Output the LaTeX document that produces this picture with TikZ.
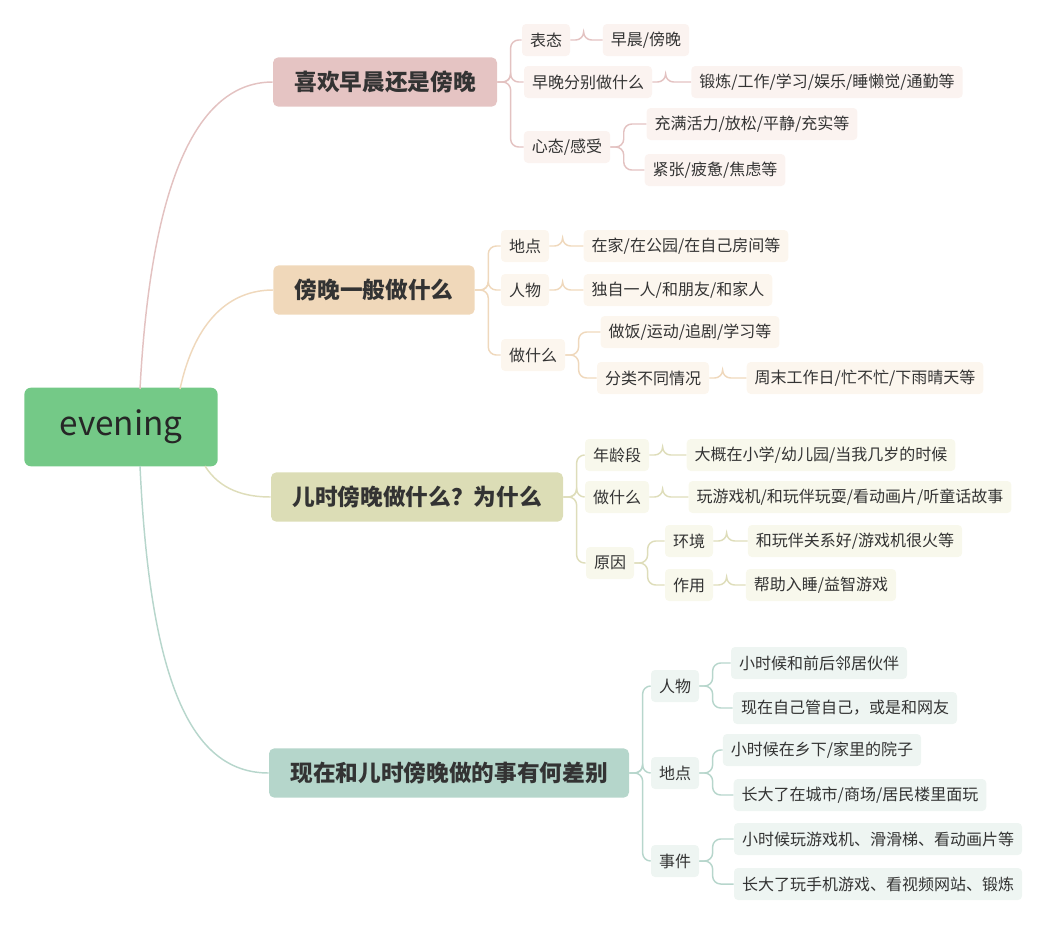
\documentclass[tikz,border=0pt]{standalone}
\usepackage{fontspec}
\setmainfont{Noto Sans CJK SC}
\definecolor{rootc}{HTML}{74C987}
\definecolor{ca}{HTML}{E5C4C3}\definecolor{la}{HTML}{E3C2C1}\definecolor{fa}{HTML}{FBF3F0}
\definecolor{cb}{HTML}{F0D8BA}\definecolor{lb}{HTML}{EFD8BC}\definecolor{fb}{HTML}{FCF6EE}
\definecolor{cc}{HTML}{DCDDB6}\definecolor{lc}{HTML}{DEDDBA}\definecolor{fc}{HTML}{F8F8EC}
\definecolor{cd}{HTML}{B5D6CB}\definecolor{ld}{HTML}{B7D6CC}\definecolor{fd}{HTML}{EEF5F2}
\definecolor{txt}{HTML}{333333}
\tikzset{
  topic/.style={rounded corners=4pt, fill=#1, text=txt, font=\fontsize{17}{20}\selectfont\bfseries,
    inner xsep=16pt, minimum height=37pt},
  leaf/.style={rounded corners=3pt, fill=#1, text=txt, font=\fontsize{12}{14}\selectfont,
    inner xsep=6pt, minimum height=24pt},
  link/.style={draw=#1, line width=1.1pt, rounded corners=6pt},
}
\newcommand\fork[3]{\draw[link=#1] (#2.east) -- ++(10pt,0) |- (#3.west);}
\begin{document}
\begin{tikzpicture}[x=0.75pt,y=-0.75pt]
\useasboundingbox (0,0) rectangle (1063,936);
% root and main topics
\node[rounded corners=5pt, fill=rootc, text=black!85, font=\fontsize{25}{28}\selectfont,
  minimum width=145pt, minimum height=59pt] (root) at (121,427) {evening};
\node[topic=ca] (morning) at (385,82) {喜欢早晨还是傍晚};
\node[topic=cb] (usual) at (374,290) {傍晚一般做什么};
\node[topic=cc] (child) at (417,497) {儿时傍晚做什么？为什么};
\node[topic=cd] (now) at (449,773) {现在和儿时傍晚做的事有何差别};
\draw[la, line width=1.1pt] (140,389) .. controls (150,200) and (190,82) .. (morning.west);
\draw[lb, line width=1.1pt] (180,389) .. controls (195,320) and (230,290) .. (usual.west);
\draw[lc, line width=1.1pt] (205,466) .. controls (220,490) and (245,497) .. (child.west);
\draw[ld, line width=1.1pt] (140,466) .. controls (150,680) and (190,773) .. (now.west);
% first topic
\node[leaf=fa] (state) at (546,40) {表态};
\node[leaf=fa] (statea) at (646,40) {早晨/傍晚};
\node[leaf=fa] (doing) at (588,82) {早晚分别做什么};
\node[leaf=fa] (doinga) at (827,82) {锻炼/工作/学习/娱乐/睡懒觉/通勤等};
\node[leaf=fa] (mood) at (567,147) {心态/感受};
\node[leaf=fa] (mooda) at (752,124) {充满活力/放松/平静/充实等};
\node[leaf=fa] (moodb) at (715,170) {紧张/疲惫/焦虑等};
\foreach \c in {state,doing,mood} {\fork{la}{morning}{\c}}
\fork{la}{state}{statea}
\fork{la}{doing}{doinga}
\foreach \c in {mooda,moodb} {\fork{la}{mood}{\c}}
% second topic
\node[leaf=fb] (place) at (525,246) {地点};
\node[leaf=fb] (placea) at (686,246) {在家/在公园/在自己房间等};
\node[leaf=fb] (people) at (525,290) {人物};
\node[leaf=fb] (peoplea) at (678,290) {独自一人/和朋友/和家人};
\node[leaf=fb] (what) at (533,355) {做什么};
\node[leaf=fb] (whata) at (690,332) {做饭/运动/追剧/学习等};
\node[leaf=fb] (whatb) at (653,378) {分类不同情况};
\node[leaf=fb] (whatc) at (865,378) {周末工作日/忙不忙/下雨晴天等};
\foreach \c in {place,people,what} {\fork{lb}{usual}{\c}}
\fork{lb}{place}{placea}
\fork{lb}{people}{peoplea}
\foreach \c in {whata,whatb} {\fork{lb}{what}{\c}}
\fork{lb}{whatb}{whatc}
% third topic
\node[leaf=fc] (age) at (617,455) {年龄段};
\node[leaf=fc] (agea) at (821,455) {大概在小学/幼儿园/当我几岁的时候};
\node[leaf=fc] (play) at (617,497) {做什么};
\node[leaf=fc] (playa) at (850,497) {玩游戏机/和玩伴玩耍/看动画片/听童话故事};
\node[leaf=fc] (why) at (610,563) {原因};
\node[leaf=fc] (env) at (689,541) {环境};
\node[leaf=fc] (enva) at (855,541) {和玩伴关系好/游戏机很火等};
\node[leaf=fc] (use) at (689,585) {作用};
\node[leaf=fc] (usea) at (821,585) {帮助入睡/益智游戏};
\foreach \c in {age,play,why} {\fork{lc}{child}{\c}}
\fork{lc}{age}{agea}
\fork{lc}{play}{playa}
\foreach \c in {env,use} {\fork{lc}{why}{\c}}
\fork{lc}{env}{enva}
\fork{lc}{use}{usea}
% fourth topic
\node[leaf=fd] (who) at (675,686) {人物};
\node[leaf=fd] (whoa) at (819,663) {小时候和前后邻居伙伴};
\node[leaf=fd] (whob) at (845,708) {现在自己管自己，或是和网友};
\node[leaf=fd] (where) at (675,773) {地点};
\node[leaf=fd] (wherea) at (822,750) {小时候在乡下/家里的院子};
\node[leaf=fd] (whereb) at (860,795) {长大了在城市/商场/居民楼里面玩};
\node[leaf=fd] (event) at (675,861) {事件};
\node[leaf=fd] (eventa) at (878,839) {小时候玩游戏机、滑滑梯、看动画片等};
\node[leaf=fd] (eventb) at (878,884) {长大了玩手机游戏、看视频网站、锻炼};
\foreach \c in {who,where,event} {\fork{ld}{now}{\c}}
\foreach \c in {whoa,whob} {\fork{ld}{who}{\c}}
\foreach \c in {wherea,whereb} {\fork{ld}{where}{\c}}
\foreach \c in {eventa,eventb} {\fork{ld}{event}{\c}}
\end{tikzpicture}
\end{document}
